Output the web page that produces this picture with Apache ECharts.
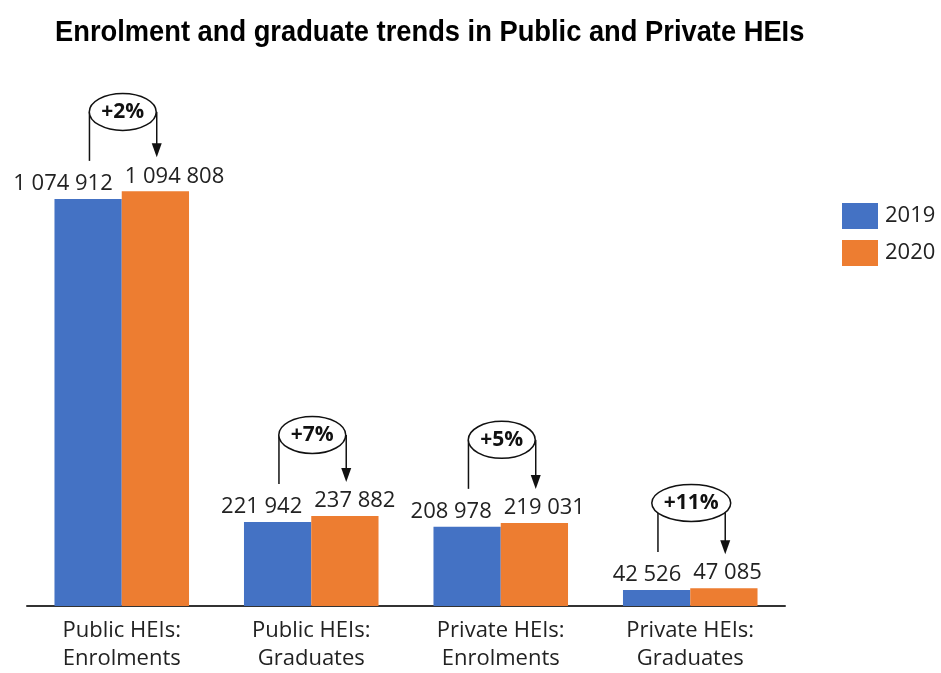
<!DOCTYPE html>
<html><head><meta charset="utf-8">
<script src="https://cdn.jsdelivr.net/npm/echarts@6/dist/echarts.min.js"></script>
<style>html,body{margin:0;padding:0;background:#fff;overflow:hidden}#c{width:941px;height:673px}</style>
</head><body><div id="c"></div>
<script>
const categories = ['Public HEIs:\nEnrolments', 'Public HEIs:\nGraduates', 'Private HEIs:\nEnrolments', 'Private HEIs:\nGraduates'];
const values2019 = [1074912, 221942, 208978, 42526];
const values2020 = [1094808, 237882, 219031, 47085];
const changeLabels = ['+2%', '+7%', '+5%', '+11%'];
const titleText = 'Enrolment and graduate trends in Public and Private HEIs';

const fmt = v => String(v).replace(/\B(?=(\d{3})+(?!\d))/g, ' ');
const FONT = '"Open Sans", sans-serif';
const PCT_FONT = 'bold 21px "Open Sans", sans-serif';
const mctx = document.createElement('canvas').getContext('2d');
function textW(t, font) { mctx.font = font; return mctx.measureText(t).width; }

const annData = categories.map((c, i) => [i, values2019[i], values2020[i], i]);

const chart = echarts.init(document.getElementById('c'));
chart.setOption({
  animation: false,
  backgroundColor: '#fff',
  graphic: [{
    type: 'text', left: 55, top: 18, scaleX: 0.91, originX: 0,
    style: { text: titleText, fontFamily: '"Liberation Sans", Arial, sans-serif', fontWeight: 'bold', fontSize: 30, fill: '#000' }
  }],
  legend: {
    data: ['2019', '2020'],
    orient: 'vertical', left: 842, top: 203, padding: 0,
    itemWidth: 36, itemHeight: 26, itemGap: 11,
    icon: 'rect',
    textStyle: { fontFamily: FONT, fontSize: 22, color: '#222', padding: [0, 0, 0, 2] }
  },
  grid: { left: 27, width: 758, top: 100, height: 512 },
  xAxis: {
    type: 'category', data: categories,
    axisLine: { lineStyle: { color: '#333', width: 2 } },
    axisTick: { show: false },
    axisLabel: { fontFamily: FONT, fontSize: 22, color: '#222', lineHeight: 28, margin: 11 }
  },
  yAxis: { type: 'value', min: 0, max: 1336000, show: false, splitLine: { show: false } },
  series: [
    {
      name: '2019', type: 'bar', data: values2019, barGap: '0%', barCategoryGap: '29%',
      itemStyle: { color: '#4472C4' },
      label: { show: true, position: ['100%', 0], align: 'right', verticalAlign: 'bottom', offset: [-9, -4],
        formatter: p => fmt(p.value), fontFamily: FONT, fontSize: 22, color: '#222' }
    },
    {
      name: '2020', type: 'bar', data: values2020, barGap: '0%', barCategoryGap: '29%',
      itemStyle: { color: '#ED7D31' },
      label: { show: true, position: [0, 0], align: 'left', verticalAlign: 'bottom', offset: [3, -4],
        formatter: p => fmt(p.value), fontFamily: FONT, fontSize: 22, color: '#222' }
    },
    {
      name: 'change', type: 'custom', data: annData, z: 10, silent: true,
      renderItem: function (params, api) {
        const i = api.value(0);
        const b = api.coord([i, api.value(1)]);
        const o = api.coord([i, api.value(2)]);
        const band = api.size([1, 0])[0];
        const bw = band * 0.355;
        const cx = b[0];
        const lx = cx - bw * 0.48, rxp = cx + bw * 0.52;
        const ey = b[1] - 87;
        const txt = changeLabels[api.value(3)];
        const erx = textW(txt, PCT_FONT) / 2 + 12, ery = 18.5;
        const tipY = o[1] - 34;
        const line = { stroke: '#111', lineWidth: 1.5 };
        return {
          type: 'group',
          children: [
            { type: 'line', shape: { x1: lx, y1: ey, x2: lx, y2: b[1] - 38 }, style: line },
            { type: 'line', shape: { x1: rxp, y1: ey, x2: rxp, y2: tipY - 10 }, style: line },
            { type: 'polygon', shape: { points: [[rxp - 5, tipY - 14], [rxp + 5, tipY - 14], [rxp, tipY]] }, style: { fill: '#111' } },
            { type: 'ellipse', shape: { cx: cx + 1, cy: ey, rx: erx, ry: ery }, style: { fill: '#fff', stroke: '#111', lineWidth: 1.5 } },
            { type: 'text', x: cx + 1, y: ey, style: { text: txt, align: 'center', verticalAlign: 'middle', fontFamily: FONT, fontWeight: 'bold', fontSize: 21, fill: '#111' } }
          ]
        };
      }
    }
  ]
});
</script></body></html>
